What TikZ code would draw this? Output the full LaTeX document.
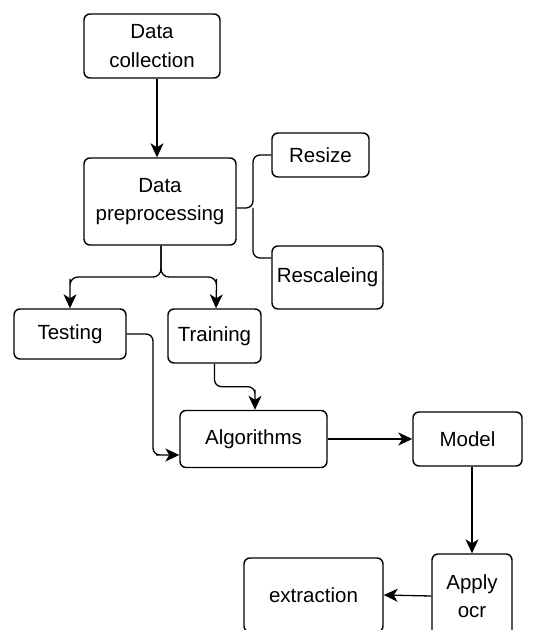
\documentclass[tikz,border=0pt]{standalone}
\usepackage{fontspec}
\setmainfont{Liberation Sans}
\usepackage{tikz}
\usetikzlibrary{shapes,arrows.meta}
\usetikzlibrary{positioning}

\begin{document}
\begin{tikzpicture}[x=1pt,y=1pt,
    node distance = 0mm,
every node/.style = {inner sep=0pt, align=center,
                     font=\fontsize{20.5}{28.5}\selectfont},
box/.style  = {draw, line width=1.4pt, rounded corners=6pt},
link/.style = {draw, line width=1.3pt,
               -{Stealth[length=14pt,width=13pt,inset=4pt]}},
plain/.style = {draw, line width=1.3pt, rounded corners=7pt}]
\useasboundingbox (0,0) rectangle (535,630);

\node[box, minimum width=136, minimum height=64] (collect) at (152,584)   {Data\\collection};
\node[box, minimum width=152, minimum height=87] (prep)    at (160,428.5) {Data\\preprocessing};
\node[box, minimum width=97,  minimum height=44] (resize)  at (320.5,475) {Resize};
\node[box, minimum width=111, minimum height=63] (rescale) at (327.5,352.5) {Rescaleing};

\node[box, minimum width=112, minimum height=50] (testing)  at (70,296)    {Testing};
\node[box, minimum width=93,  minimum height=54] (training) at (214.5,294) {Training};

\node[box, minimum width=147, minimum height=57] (algo)    at (253.5,191) {Algorithms};
\node[box, minimum width=109, minimum height=54] (model)   at (467.5,191) {Model};
\node[box, minimum width=80,  minimum height=84] (apply)   at (472,34)    {Apply\\ocr};
\node[box, minimum width=139, minimum height=74] (extract) at (313.5,35)  {extraction};

\coordinate (split) at (161,353);
\coordinate (fork)  at (253,422);
\coordinate (tbend) at (153,175);

\draw[link] ([xshift=5pt]collect.south) -- ([xshift=-3pt]prep.north);

\draw[link] ([xshift=1pt]prep.south) [rounded corners=8pt] -- (split)
    -| ++(-91,-10) [sharp corners] -- (testing.north);
\draw[link] ([xshift=1pt]prep.south) [rounded corners=8pt] -- (split)
    -| ++(55.5,-10) [sharp corners] -- ([xshift=1.5pt]training.north);

% brace to the two preprocessing steps
\draw[plain] ([yshift=-6.5pt]prep.east) -- (fork) |- (resize.west);
\draw[plain] (fork) |- ([yshift=19.5pt]rescale.west);

\draw[link] (testing.east) [rounded corners=7pt] -| (tbend) -- ++(10,0)
    [sharp corners] -- (tbend -| algo.west);
\draw[link] (training.south) [rounded corners=7pt] -- ++(0,-23)
    -| ++(40.5,-10) [sharp corners] -- ([xshift=1.5pt]algo.north);

\draw[link] (algo.east) -- (model.west);
\draw[link] (model.south -| apply.north) -- (apply.north);
\draw[link] (apply.west) -- (extract.east);

%\node[below=of apply] {};
\end{tikzpicture}
\end{document}
